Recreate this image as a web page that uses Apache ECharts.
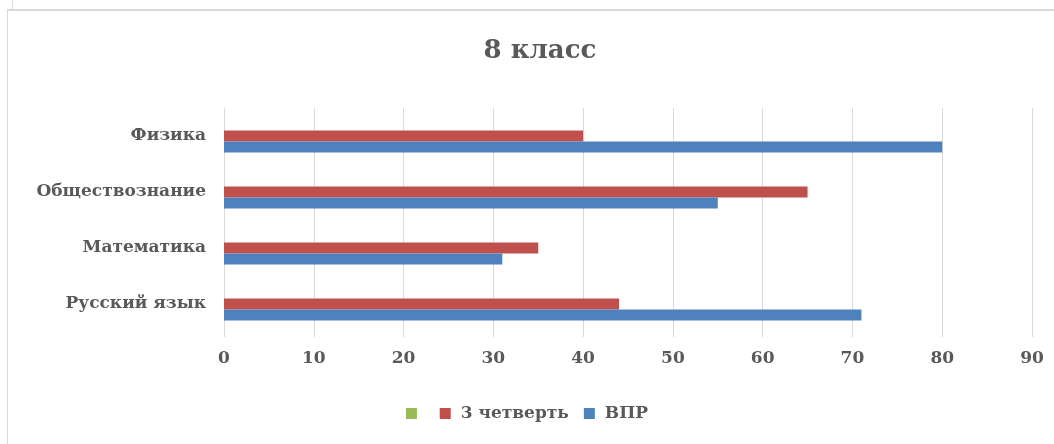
<!DOCTYPE html>
<html>
<head>
<meta charset="utf-8">
<script src="https://cdn.jsdelivr.net/npm/echarts@6/dist/echarts.min.js"></script>
<style>
html,body{margin:0;padding:0;background:#fff;}
#wrap{position:relative;width:1054px;height:444px;overflow:hidden;}
#chart{position:absolute;left:0;top:0;width:1054px;height:444px;}
.frame{position:absolute;left:7px;top:9px;width:1100px;height:500px;border-left:1.5px solid #d9d9d9;border-top:2px solid #d9d9d9;}
.frame2{position:absolute;left:12px;top:0;width:1px;height:9px;background:#d9d9d9;}
</style>
</head>
<body>
<div id="wrap">
<div class="frame2"></div>
<div class="frame"></div>
<div id="chart"></div>
</div>
<script>
const categories = ['Русский язык', 'Математика', 'Обществознание', 'Физика'];
const seriesNames = [' ', '3 четверть', 'ВПР'];
const greenValues = [null, null, null, null];
const quarterValues = [44, 35, 65, 40];
const vprValues = [71, 31, 55, 80];
const xTicks = [0, 10, 20, 30, 40, 50, 60, 70, 80, 90];

const font = '"DejaVu Serif", "Liberation Serif", serif';
const textColor = '#595959';
const chart = echarts.init(document.getElementById('chart'), null, {renderer: 'canvas'});
chart.setOption({
  animation: false,
  title: {
    text: '8 класс', left: 535, top: 33, textAlign: 'center',
    textStyle: {fontFamily: font, fontWeight: 'bold', fontSize: 26, color: textColor}
  },
  legend: {
    data: [
      {name: seriesNames[0], textStyle: {padding: 0, fontSize: 8}},
      {name: seriesNames[1]},
      {name: seriesNames[2]}
    ],
    left: 'center', top: 400, itemWidth: 11, itemHeight: 11, itemGap: 15,
    icon: 'rect',
    textStyle: {fontFamily: font, fontWeight: 'bold', fontSize: 17, color: textColor, padding: [0, 0, 0, 5]}
  },
  grid: {left: 224, right: 22, top: 108, bottom: 112, containLabel: false},
  xAxis: {
    type: 'value', min: xTicks[0], max: xTicks[xTicks.length - 1], interval: 10,
    axisLine: {show: false},
    axisTick: {show: true, length: 5, lineStyle: {color: '#d9d9d9'}},
    splitLine: {show: true, lineStyle: {color: '#d9d9d9', width: 1}},
    axisLabel: {fontFamily: font, fontWeight: 'bold', fontSize: 17, color: textColor, margin: 18}
  },
  yAxis: {
    type: 'category', data: categories,
    axisLine: {show: true, lineStyle: {color: '#d9d9d9'}},
    axisTick: {show: false},
    axisLabel: {fontFamily: font, fontWeight: 'bold', fontSize: 17, color: textColor, margin: 18}
  },
  series: [
    {name: seriesNames[0], type: 'bar', data: greenValues, barWidth: 11, barGap: '0%', itemStyle: {color: '#9BBB59'}},
    {name: seriesNames[1], type: 'bar', data: quarterValues, barWidth: 11, barGap: '0%', itemStyle: {color: '#C0504D'}},
    {name: seriesNames[2], type: 'bar', data: vprValues, barWidth: 11, barGap: '0%', itemStyle: {color: '#4F81BD'}}
  ]
});
</script>
</body>
</html>
